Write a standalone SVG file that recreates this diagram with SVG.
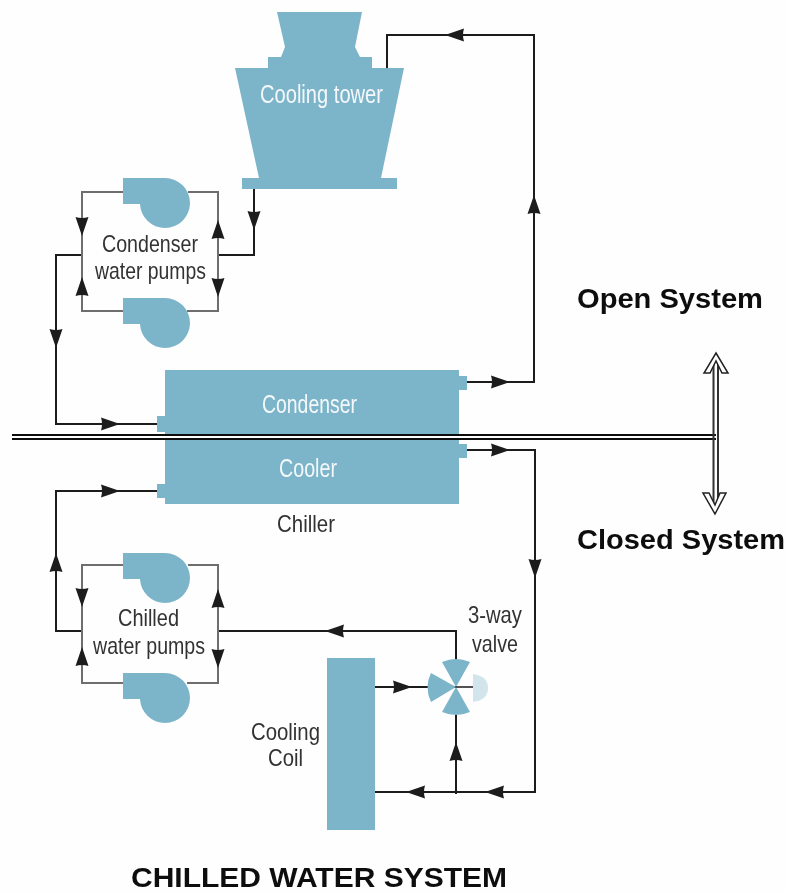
<svg xmlns="http://www.w3.org/2000/svg" width="786" height="894" viewBox="0 0 786 894">
<style>
.eq{fill:#7cb5c9}
.pipe{fill:none;stroke:#1c1c1c;stroke-width:2}
.gr{fill:none;stroke:#6e6e6e;stroke-width:2}
.ar{fill:#1c1c1c}
text{font-family:"Liberation Sans",Arial,sans-serif}
.w{fill:#f4f8fa;font-size:25px}
.d{fill:#333;font-size:24px}
.h{fill:#111;font-size:27px;font-weight:bold}
.t{fill:#111;font-size:28px;font-weight:bold}
</style>
<defs>
<filter id="soft" x="0" y="0" width="100%" height="100%"><feGaussianBlur stdDeviation="0.5"/></filter>
<path id="pump" d="M123 0H165A25 25 0 0 1 165 50A25 25 0 0 1 140 26H123Z"/>
<path id="u" d="M0 -14L6.500 5Q0 3 -6.500 5Z"/>
</defs>
<rect width="786" height="894" fill="#fefefe"/>
<g filter="url(#soft)">
<g id="connectors">
<path class="pipe" d="M387 68V35H534V382H467"/>
<path class="pipe" d="M254 189V255H218"/>
<path class="pipe" d="M82 255H56V424H157"/>
<path class="pipe" d="M467 450H535V792H375"/>
<path class="pipe" d="M157 491H56V631H82"/>
<path class="pipe" d="M218 631H456V662"/>
<path class="pipe" d="M375 687H456"/>
<path class="pipe" d="M456 700V794"/>
<path class="gr" d="M123 192H82V311H123M188 192H218V311H187"/>
<path class="gr" d="M123 565H82V683H123M188 565H218V683H187"/>
<use href="#u" class="ar" transform="translate(534 209)"/>
<use href="#u" class="ar" transform="translate(459 35) rotate(-90)"/>
<use href="#u" class="ar" transform="translate(254 216) rotate(180)"/>
<use href="#u" class="ar" transform="translate(82 222) rotate(180)"/>
<use href="#u" class="ar" transform="translate(218 234)"/>
<use href="#u" class="ar" transform="translate(218 283) rotate(180)"/>
<use href="#u" class="ar" transform="translate(82 291)"/>
<use href="#u" class="ar" transform="translate(56 334) rotate(180)"/>
<use href="#u" class="ar" transform="translate(106 424) rotate(90)"/>
<use href="#u" class="ar" transform="translate(496 382) rotate(90)"/>
<use href="#u" class="ar" transform="translate(496 450) rotate(90)"/>
<use href="#u" class="ar" transform="translate(535 564) rotate(180)"/>
<use href="#u" class="ar" transform="translate(106 491) rotate(90)"/>
<use href="#u" class="ar" transform="translate(56 567)"/>
<use href="#u" class="ar" transform="translate(82 593) rotate(180)"/>
<use href="#u" class="ar" transform="translate(218 603)"/>
<use href="#u" class="ar" transform="translate(218 654) rotate(180)"/>
<use href="#u" class="ar" transform="translate(82 661)"/>
<use href="#u" class="ar" transform="translate(339 631) rotate(-90)"/>
<use href="#u" class="ar" transform="translate(398 687) rotate(90)"/>
<use href="#u" class="ar" transform="translate(456 756)"/>
<use href="#u" class="ar" transform="translate(420 792) rotate(-90)"/>
<use href="#u" class="ar" transform="translate(499 792) rotate(-90)"/>
</g>
<g id="cooling-tower">
<path class="eq" d="M277 12H362L355 47L360 57H372V68H404L381 178H397V189H242V178H259L235 68H268V57H281L285 47Z"/>
<text class="w" x="260" y="103" textLength="123" lengthAdjust="spacingAndGlyphs">Cooling tower</text>
</g>
<g id="condenser-water-pumps">
<use href="#pump" class="eq" y="178"/>
<use href="#pump" class="eq" y="298"/>
<text class="d" x="102" y="252" textLength="96" lengthAdjust="spacingAndGlyphs">Condenser</text>
<text class="d" x="95" y="279" textLength="111" lengthAdjust="spacingAndGlyphs">water pumps</text>
</g>
<g id="condenser">
<path class="eq" d="M165 370H459V376H467V390H459V434H165V432H157V416H165Z"/>
<text class="w" x="262" y="413" textLength="95" lengthAdjust="spacingAndGlyphs">Condenser</text>
</g>
<g id="cooler">
<path class="eq" d="M165 440H459V444H467V458H459V504H165V498H157V484H165Z"/>
<text class="w" x="279" y="477" textLength="58" lengthAdjust="spacingAndGlyphs">Cooler</text>
<text class="d" x="277" y="532" textLength="58" lengthAdjust="spacingAndGlyphs">Chiller</text>
</g>
<g id="chilled-water-pumps">
<use href="#pump" class="eq" y="553"/>
<use href="#pump" class="eq" y="673"/>
<text class="d" x="118" y="626" textLength="61" lengthAdjust="spacingAndGlyphs">Chilled</text>
<text class="d" x="93" y="654" textLength="112" lengthAdjust="spacingAndGlyphs">water pumps</text>
</g>
<g id="cooling-coil">
<rect class="eq" x="327" y="658" width="48" height="172"/>
<text class="d" x="251" y="740" textLength="69" lengthAdjust="spacingAndGlyphs">Cooling</text>
<text class="d" x="268" y="766" textLength="35" lengthAdjust="spacingAndGlyphs">Coil</text>
</g>
<g id="three-way-valve">
<path class="eq" d="M456 687L442 662Q456 656 470 662Z"/>
<path class="eq" d="M456 687L442 712Q456 718 470 712Z"/>
<path class="eq" d="M456 687L431 673Q424 687 431 702Z"/>
<path d="M473 674Q488 676 488 688Q488 700 473 702Z" fill="#d2e5ec"/>
<path d="M456 687H473" stroke="#1c1c1c" stroke-width="1.500"/>
<text class="d" x="468" y="623" textLength="54" lengthAdjust="spacingAndGlyphs">3-way</text>
<text class="d" x="472" y="652" textLength="46" lengthAdjust="spacingAndGlyphs">valve</text>
</g>
<g id="system-boundary">
<path d="M12 435H716M12 439H716" fill="none" stroke="#111" stroke-width="2"/>
<path d="M713.500 358V506M718 358V506" fill="none" stroke="#333" stroke-width="2"/>
<path d="M716 353L728 373L722 373L716 361L710 373L704 373Z" fill="#fff" stroke="#222" stroke-width="1.500"/>
<path d="M715 514L726 493L720 493L715 505L709 493L703 493Z" fill="#fff" stroke="#222" stroke-width="1.500"/>
</g>
<text class="h" x="577" y="308" textLength="186" lengthAdjust="spacingAndGlyphs">Open System</text>
<text class="h" x="577" y="549" textLength="208" lengthAdjust="spacingAndGlyphs">Closed System</text>
<text class="t" x="131" y="887" textLength="376" lengthAdjust="spacingAndGlyphs">CHILLED WATER SYSTEM</text>
</g>
</svg>
